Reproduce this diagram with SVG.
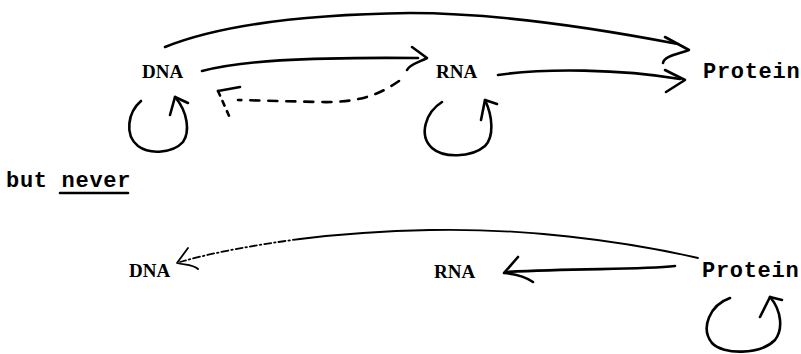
<svg xmlns="http://www.w3.org/2000/svg" width="801" height="354" viewBox="0 0 801 354">
<style>
.serif{font-family:"Liberation Serif","Times New Roman",serif;font-weight:bold;font-size:19px;fill:#000}
.mono{font-family:"Liberation Mono","Courier New",monospace;font-weight:bold;font-size:22px;letter-spacing:0.7px;fill:#000}
.pen{fill:none;stroke:#000;stroke-width:2.6;stroke-linecap:round;stroke-linejoin:round}
.thin{fill:none;stroke:#000;stroke-width:1.8;stroke-linecap:round;stroke-linejoin:round}
.dash{stroke-dasharray:9 9}
.dashdot{stroke-dasharray:7 3 1.5 3}
</style>
<rect width="801" height="354" fill="#fff"/>
<g id="dna-top"><text class="serif" x="142" y="78">DNA</text></g>
<g id="rna-top"><text class="serif" x="436" y="78">RNA</text></g>
<g id="protein-top"><text class="mono" x="703" y="78">Protein</text></g>
<g id="but-never">
<text class="mono" x="6" y="187">but never</text>
<line class="pen" x1="60" y1="193" x2="128" y2="193"/>
</g>
<g id="dna-bottom"><text class="serif" x="129" y="277">DNA</text></g>
<g id="rna-bottom"><text class="serif" x="434" y="278">RNA</text></g>
<g id="protein-bottom"><text class="mono" x="702" y="277">Protein</text></g>
<g id="connectors">
<!-- DNA -> Protein big arc -->
<path class="pen" d="M165,47 C230,21 330,14 410,13 C500,13 600,29 678,44"/>
<path class="pen" d="M665,37 L689,50 C678,54 664,56 663,63"/>
<!-- DNA -> RNA -->
<path class="pen" d="M202,71 C240,61 300,57 418,58"/>
<path class="pen" d="M412,47 L427,58 C420,62 410,64 407,70"/>
<!-- RNA -> Protein -->
<path class="pen" d="M498,75 C545,68 620,69 680,79"/>
<path class="pen" d="M665,70 L685,80 L666,92"/>
<!-- RNA -> DNA dashed -->
<path class="pen dash" d="M399,81 C380,94 360,103 320,102 L238,100"/>
<path class="pen" d="M240,87 L218,91"/>
<path class="pen" d="M218,91 L230,118" stroke-dasharray="5 6"/>
<!-- DNA self loop -->
<path class="pen" d="M141,101 C128,112 124,135 138,146 C150,155 173,153 183,142 C190,132 188,112 175,97"/>
<path class="pen" d="M170,115 L175,97 L188,103"/>
<!-- RNA self loop -->
<path class="pen" d="M442,102 C426,112 418,135 432,148 C443,158 471,158 485,146 C494,137 493,117 485,100"/>
<path class="pen" d="M481,120 L485,100 L497,104"/>
<!-- Protein self loop -->
<path class="pen" d="M730,298 C710,305 700,328 712,343 C723,355 760,355 775,340 C783,330 782,311 770,297"/>
<path class="pen" d="M760,317 L770,297 L782,300"/>
<!-- Protein -> DNA (never) -->
<path class="thin" d="M698,258 C620,240 520,228 430,230 C380,231 340,234 300,239"/>
<path class="thin dashdot" d="M300,239 C255,245 215,252 180,262"/>
<path class="thin" d="M188,248 L177,263 C185,265 193,264 198,269"/>
<!-- Protein -> RNA (never) -->
<path class="pen" d="M675,266 C640,270 580,268 505,272"/>
<path class="pen" d="M518,257 L504,273 C515,274 526,277 533,282"/>
</g>
</svg>
